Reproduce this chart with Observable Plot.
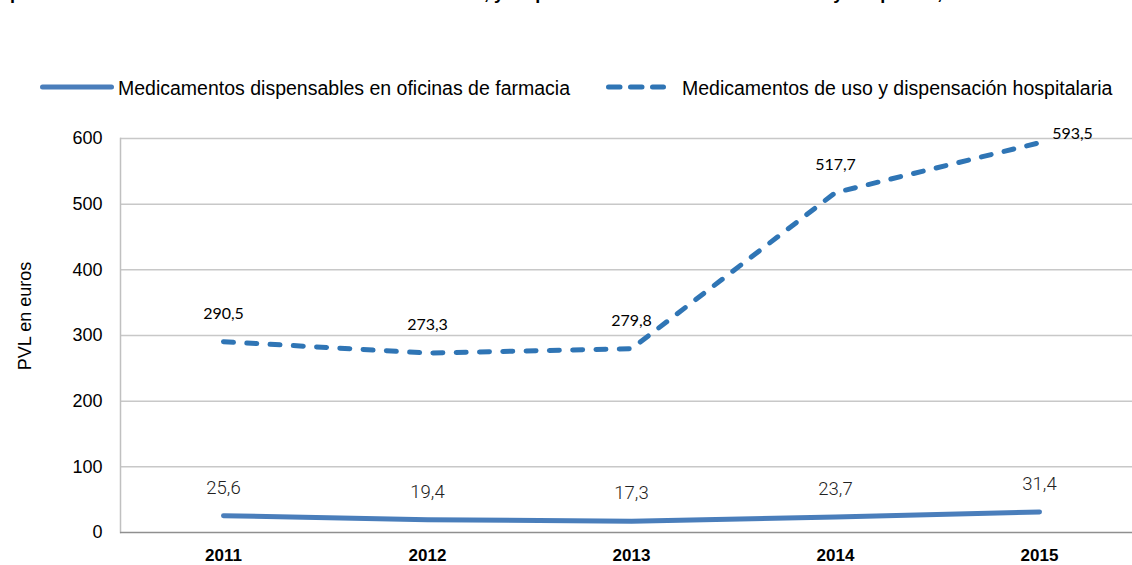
<!DOCTYPE html>
<html><head><meta charset="utf-8">
<script src="https://cdn.jsdelivr.net/npm/d3@7"></script>
<script src="https://cdn.jsdelivr.net/npm/@observablehq/plot@0.6"></script>
<style>
body{margin:0;background:#fff;font-family:"Liberation Sans",Arial,sans-serif;}
#wrap{position:relative;width:1132px;height:565px;overflow:hidden;}
#title{position:absolute;left:10px;top:-16px;font-weight:bold;font-size:18px;line-height:18px;white-space:nowrap;color:#000;}
.legtext{position:absolute;font-size:19.5px;line-height:19px;white-space:nowrap;color:#000;}
.legsvg{position:absolute;}
#chart{position:absolute;left:0;top:0;}
#ylabel{position:absolute;left:25px;top:316px;width:0;height:0;}
#ylabel span{position:absolute;transform:translate(-50%,-50%) rotate(-90deg);font-size:18px;line-height:18px;white-space:nowrap;color:#000;}
</style></head><body>
<div id="wrap">
<div id="chart"></div>
<div id="title"></div>
<div id="legend"></div>
<div id="ylabel"><span></span></div>
</div>
<script>
const titleText = "precio medio de los nuevos medicamentos autorizados, y dispensación en oficinas de farmacia y hospitales, años 2011-2015";
const years = ["2011", "2012", "2013", "2014", "2015"];
const oficinas = [25.6, 19.4, 17.3, 23.7, 31.4];
const hospital = [290.5, 273.3, 279.8, 517.7, 593.5];
const seriesNames = ["Medicamentos dispensables en oficinas de farmacia", "Medicamentos de uso y dispensación hospitalaria"];
const yTicks = [0, 100, 200, 300, 400, 500, 600];
const yLabel = "PVL en euros";

const colSolid = "#4a7ebb";
const colDash = "#2f75b5";
const fmt = v => v.toFixed(1).replace(".", ",");

document.getElementById("title").textContent = titleText;
document.querySelector("#ylabel span").textContent = yLabel;

// legend
const leg = document.getElementById("legend");
function addLegend(left, svgW, dash, color, textLeft, label) {
  const ns = "http://www.w3.org/2000/svg";
  const svg = document.createElementNS(ns, "svg");
  svg.setAttribute("class", "legsvg");
  svg.setAttribute("width", svgW);
  svg.setAttribute("height", 14);
  svg.style.left = left + "px";
  svg.style.top = "80px";
  const ln = document.createElementNS(ns, "line");
  ln.setAttribute("x1", 4.5); ln.setAttribute("x2", svgW - 4.5);
  ln.setAttribute("y1", 7); ln.setAttribute("y2", 7);
  ln.setAttribute("stroke", color); ln.setAttribute("stroke-width", 5);
  ln.setAttribute("stroke-linecap", "round");
  if (dash) ln.setAttribute("stroke-dasharray", dash);
  svg.appendChild(ln);
  leg.appendChild(svg);
  const t = document.createElement("div");
  t.className = "legtext";
  t.style.left = textLeft + "px";
  t.style.top = "79px";
  t.textContent = label;
  leg.appendChild(t);
}
addLegend(38, 78, null, colSolid, 118, seriesNames[0]);
addLegend(604, 64, "11.5,10.5", colDash, 682, seriesNames[1]);

const data = years.map((y, i) => ({year: y, a: oficinas[i], b: hospital[i]}));

const chart = Plot.plot({
  width: 1132,
  height: 565,
  marginTop: 138,
  marginBottom: 33,
  marginLeft: 120,
  marginRight: 0,
  style: {fontFamily: "'Liberation Sans', Arial, sans-serif", background: "transparent", color: "#000"},
  x: {type: "point", domain: years, range: [120, 1142.5], padding: 0.5},
  y: {domain: [0, 600]},
  marks: [
    Plot.ruleY(yTicks.filter(d => d > 0), {stroke: "#c8c8c8", strokeWidth: 1.5}),
    Plot.frame({anchor: "left", stroke: "#c0c0c0", strokeWidth: 1.5}),
    Plot.ruleY([0], {stroke: "#8f8f8f", strokeWidth: 1.5}),
    Plot.axisY({ticks: yTicks, tickSize: 0, tickPadding: 18, fontSize: 18, label: null}),
    Plot.axisX({tickSize: 0, tickPadding: 16, fontSize: 17, fontWeight: "bold", label: null}),
    Plot.line(data, {x: "year", y: "a", stroke: colSolid, strokeWidth: 5, strokeLinecap: "round", strokeLinejoin: "round", curve: "linear"}),
    Plot.line(data, {x: "year", y: "b", stroke: colDash, strokeWidth: 5, strokeLinecap: "round", strokeLinejoin: "round", strokeDasharray: "10,13.3", curve: "linear"}),
    Plot.text(data, {x: "year", y: "a", text: d => fmt(d.a), dy: -28, fontSize: 18.5, fontFamily: "Roboto", fontWeight: 300, fill: "#222"}),
    Plot.text(data.slice(0, 4), {x: "year", y: "b", text: d => fmt(d.b), dy: -28, fontSize: 16, fontFamily: "Lato", fill: "#000"}),
    Plot.text(data.slice(4), {x: "year", y: "b", text: d => fmt(d.b), dx: 33, dy: -9, fontSize: 16, fontFamily: "Lato", fill: "#000"})
  ]
});
document.getElementById("chart").appendChild(chart);
</script>
</body></html>
